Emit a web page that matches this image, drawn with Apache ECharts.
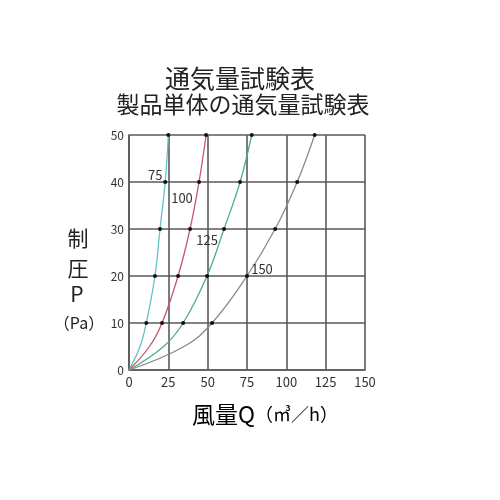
<!DOCTYPE html>
<html><head><meta charset="utf-8">
<script src="https://cdn.jsdelivr.net/npm/echarts@6/dist/echarts.min.js"></script>
<style>html,body{margin:0;padding:0;background:#fff}#c{width:500px;height:500px}</style>
</head><body><div id="c"></div>
<script>
const pressure = [0, 5, 10, 20, 30, 40, 50];
const flow75  = [0, 7, 11, 16.5, 19.7, 23, 25];
const flow100 = [0, 13, 21, 31.2, 38.8, 44.5, 49];
const flow125 = [0, 22, 34.4, 49.6, 60.4, 70.6, 78];
const flow150 = [0, 35, 52.8, 75, 92.9, 106.9, 118];
const measured = [false, false, true, true, true, true, true];
const xTicks = [0, 25, 50, 75, 100, 125, 150];
const yTicks = [0, 10, 20, 30, 40, 50];
const curveNames = ['75', '100', '125', '150'];
const colors = ['#62c3c8', '#c9576b', '#4fae86', '#8a8a8a'];
const labelAt = [5, 5, 4, 3];
const labelOffset = [[-10, -7], [-17, 16], [-17, 11], [15, -7]];
const font = '"Noto Sans CJK JP", "Noto Sans", sans-serif';

const flows = [flow75, flow100, flow125, flow150];
const series = flows.map((f, si) => ({
  type: 'line',
  smooth: 0.4,
  data: f.map((x, i) => {
    const d = { value: [x, pressure[i]] };
    if (!measured[i]) d.symbol = 'none';
    if (i === labelAt[si]) {
      d.label = { show: true, formatter: curveNames[si], position: 'inside',
        offset: labelOffset[si], color: '#333', fontSize: 13, fontFamily: font };
    }
    return d;
  }),
  symbol: 'circle',
  symbolSize: 4,
  itemStyle: { color: '#111' },
  lineStyle: { color: colors[si], width: 1.3 },
  z: 3
}));

function txt(t, x, y, size, align) {
  return { type: 'text', x: x, y: y, style: { text: t, font: size + 'px ' + font, fill: '#222',
    textAlign: align || 'center', textVerticalAlign: 'middle' } };
}

const chart = echarts.init(document.getElementById('c'));
chart.setOption({
  animation: false,
  graphic: [
    txt('通気量試験表', 240, 78, 25),
    txt('製品単体の通気量試験表', 243, 104, 23),
    txt('制', 78, 238, 21),
    txt('圧', 78, 268, 21),
    txt('P', 77, 294, 21),
    txt('（Pa）', 79, 323, 16),
    { type: 'text', x: 192, y: 414, style: { rich: {
        a: { fontSize: 23, fontFamily: font, color: '#222' },
        b: { fontSize: 18, fontFamily: font, color: '#222' } },
        text: '{a|風量Q}{b|（㎥／h）}', textVerticalAlign: 'middle' } }
  ],
  grid: { left: 129, right: 135, top: 135, bottom: 130 },
  xAxis: {
    type: 'value', min: 0, max: 150, interval: 25,
    axisLine: { lineStyle: { color: '#5a5a5a', width: 1.6 } },
    axisTick: { show: false },
    splitLine: { show: true, lineStyle: { color: '#5a5a5a', width: 1.6 } },
    axisLabel: { color: '#333', fontSize: 13, fontFamily: font, margin: 6,
      formatter: v => xTicks.includes(v) ? String(v) : '' }
  },
  yAxis: {
    type: 'value', min: 0, max: 50, interval: 10,
    axisLine: { show: true, lineStyle: { color: '#5a5a5a', width: 1.6 } },
    axisTick: { show: false },
    splitLine: { show: true, lineStyle: { color: '#5a5a5a', width: 1.6 } },
    axisLabel: { color: '#333', fontSize: 12, fontFamily: font, margin: 5,
      formatter: v => yTicks.includes(v) ? String(v) : '' }
  },
  series: series
});
</script></body></html>
